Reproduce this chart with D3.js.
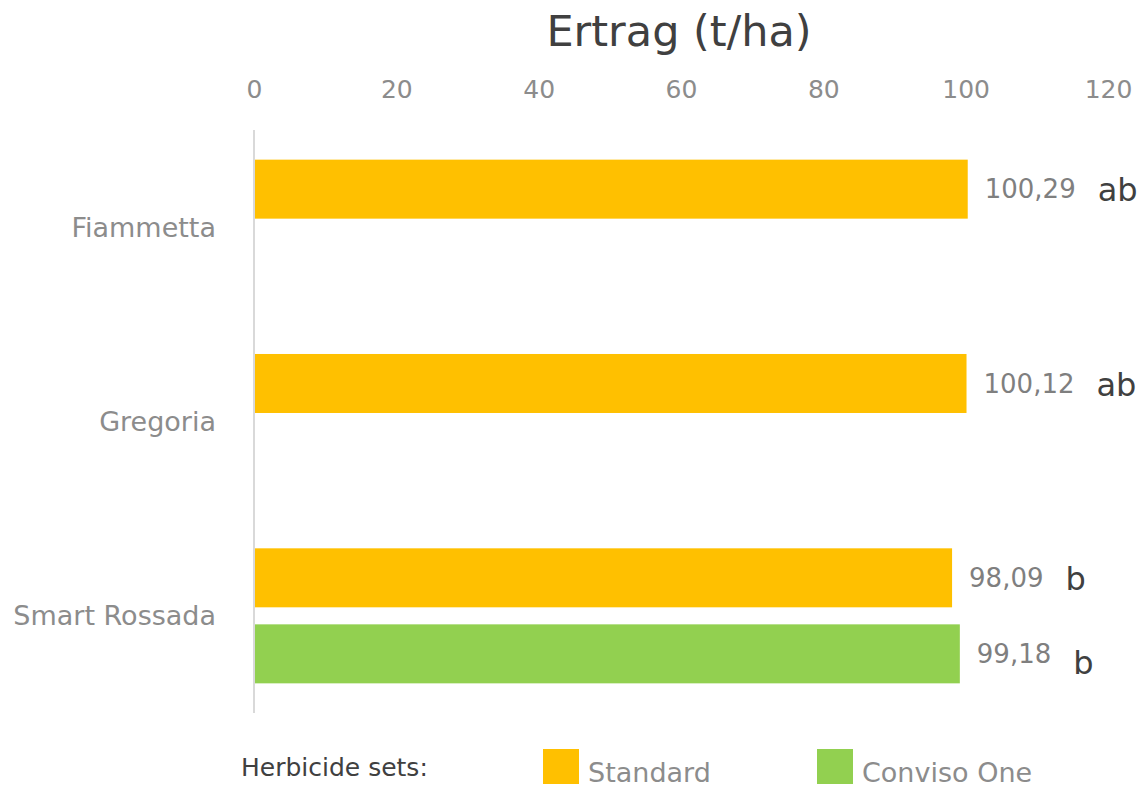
<!DOCTYPE html>
<html>
<head>
<meta charset="utf-8">
<script src="https://cdn.jsdelivr.net/npm/d3@7"></script>
<style>
  body { margin: 0; background: #fff; }
  text { font-family: "DejaVu Sans", sans-serif; }
</style>
</head>
<body>
<div class="container"></div>
<script>
const categories = ['Fiammetta', 'Gregoria', 'Smart Rossada']
const seriesNames = ['Standard', 'Conviso One']
const standardValues = [100.29, 100.12, 98.09]
const convisoValues = [null, null, 99.18]
const standardLetters = ['ab', 'ab', 'b']
const convisoLetters = [null, null, 'b']
const xTicks = [0, 20, 40, 60, 80, 100, 120]
const colors = ['#FFC000', '#92D050']

const W = 1145, H = 789
const margin = { top: 130, left: 254, right: 37, bottom: 76 }
const width = W - margin.left - margin.right
const height = H - margin.top - margin.bottom

const svg = d3.select('.container').append('svg')
    .attr('width', W)
    .attr('height', H)
const g = svg.append('g')
    .attr('transform', `translate(${margin.left},${margin.top})`)

const x = d3.scaleLinear().domain([0, 120]).range([0, width])
const y = d3.scaleBand().domain(categories).range([0, height]).paddingInner(0).paddingOuter(0)
const ySub = d3.scaleBand().domain(seriesNames).range([0, y.bandwidth()]).paddingInner(0.224).paddingOuter(0.39)

// rows of bars
const rows = []
categories.forEach((c, i) => {
    rows.push({ cat: c, series: 'Standard', value: standardValues[i], letter: standardLetters[i], color: colors[0] })
    if (convisoValues[i] != null)
        rows.push({ cat: c, series: 'Conviso One', value: convisoValues[i], letter: convisoLetters[i], color: colors[1] })
})

// title
svg.append('text')
    .attr('x', 679)
    .attr('y', 46)
    .attr('text-anchor', 'middle')
    .style('font-size', '43px')
    .style('fill', '#404040')
    .text('Ertrag (t/ha)')

// x axis on top
const xAxis = d3.axisTop(x).tickValues(xTicks).tickSize(0).tickPadding(0)
const xg = g.append('g')
    .attr('transform', 'translate(0,-35)')
    .call(xAxis)
xg.select('.domain').remove()
xg.selectAll('text')
    .style('font-size', '25px')
    .style('fill', '#8c8c8c')
    .attr('dy', '0.35em')
    .attr('y', -6)

// y axis line
g.append('line')
    .attr('x1', 0).attr('x2', 0)
    .attr('y1', 0).attr('y2', height)
    .style('stroke', '#d9d9d9')
    .style('stroke-width', 2)

// category labels
g.selectAll('.cat-label')
    .data(categories)
    .enter()
    .append('text')
    .attr('class', 'cat-label')
    .attr('x', -38)
    .attr('y', d => y(d) + y.bandwidth() / 2)
    .attr('dy', '0.35em')
    .attr('text-anchor', 'end')
    .style('font-size', '27px')
    .style('fill', '#8c8c8c')
    .text(d => d)

// bars
g.selectAll('.bar')
    .data(rows)
    .enter()
    .append('rect')
    .attr('class', 'bar')
    .attr('x', x(0) + 1)
    .attr('y', d => y(d.cat) + ySub(d.series))
    .attr('width', d => x(d.value) - x(0) - 1)
    .attr('height', ySub.bandwidth())
    .style('fill', d => d.color)

// value labels
const vals = g.selectAll('.val')
    .data(rows)
    .enter()
    .append('text')
    .attr('class', 'val')
    .attr('x', d => x(d.value) + 17)
    .attr('y', d => y(d.cat) + ySub(d.series) + ySub.bandwidth() / 2)
    .attr('dy', '0.35em')
    .style('font-size', '26px')
    .style('fill', '#7f7f7f')
    .text(d => d3.format('.2f')(d.value).replace('.', ','))

// significance letters
vals.each(function (d) {
    const len = this.getComputedTextLength()
    g.append('text')
        .attr('x', x(d.value) + 17 + len + 22)
        .attr('y', y(d.cat) + ySub(d.series) + ySub.bandwidth() / 2)
        .attr('dy', d.series === 'Standard' ? '0.38em' : '0.62em')
        .style('font-size', '32px')
        .style('fill', '#404040')
        .text(d.letter)
})

// legend
const legY = 767
svg.append('text')
    .attr('x', 241)
    .attr('y', legY)
    .attr('dy', '0.35em')
    .style('font-size', '25px')
    .style('fill', '#404040')
    .text('Herbicide sets:')

const legendX = [543, 817]
const legend = svg.selectAll('.legend-item')
    .data(seriesNames)
    .enter()
    .append('g')
    .attr('class', 'legend-item')
    .attr('transform', (d, i) => `translate(${legendX[i]},0)`)
legend.append('rect')
    .attr('x', 0)
    .attr('y', 749)
    .attr('width', 36)
    .attr('height', 35)
    .style('fill', (d, i) => colors[i])
legend.append('text')
    .attr('x', 45)
    .attr('y', 773)
    .attr('dy', '0.35em')
    .style('font-size', '27px')
    .style('fill', '#8c8c8c')
    .text(d => d)
</script>
</body>
</html>
